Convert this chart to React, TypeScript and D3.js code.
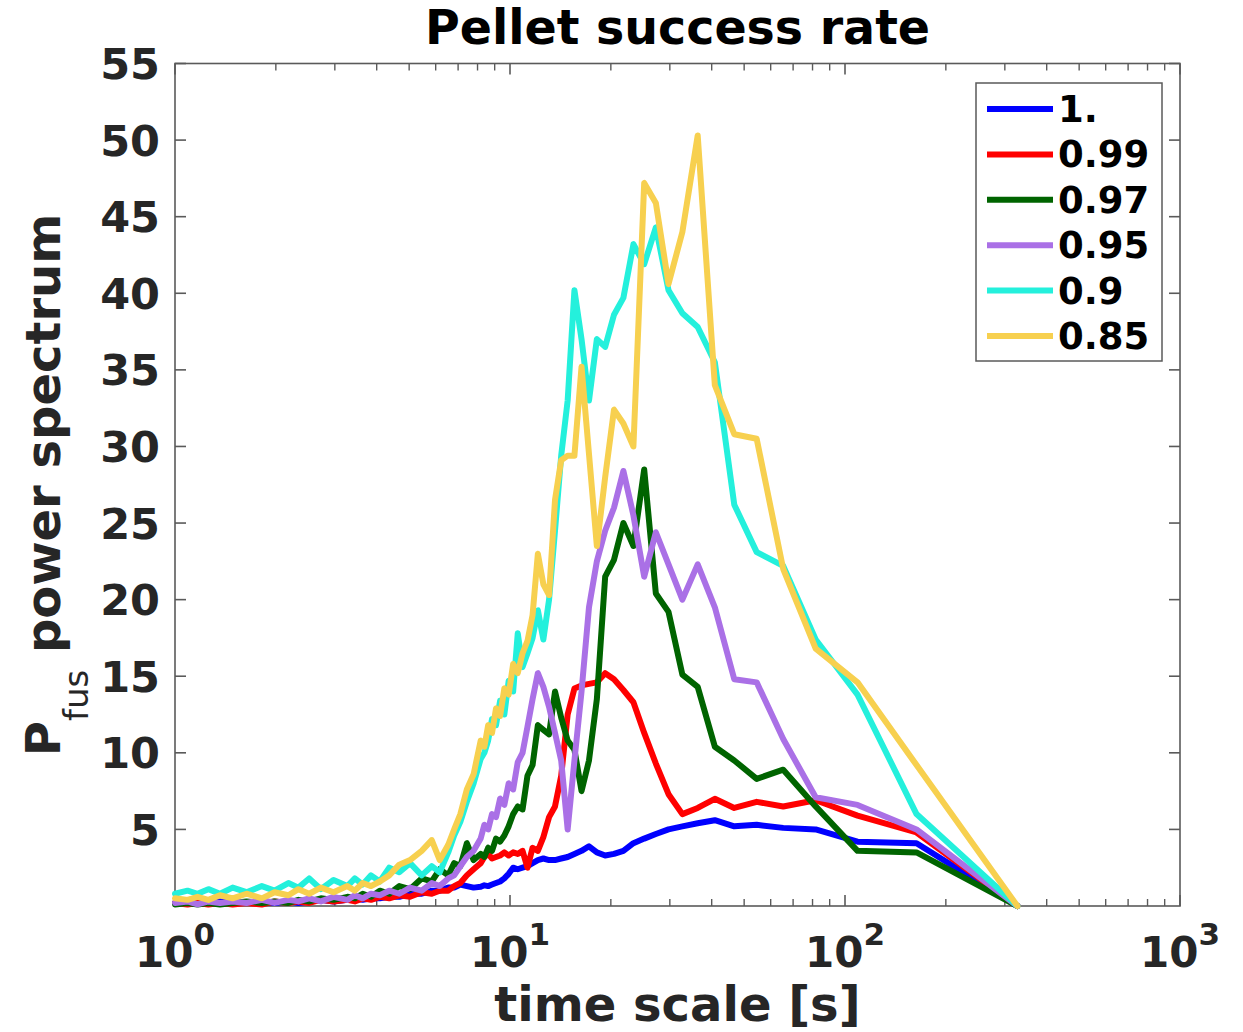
import React from 'react';
import * as d3 from 'd3';

const TITLE = 'Pellet success rate';
const X_LABEL = 'time scale [s]';
const BASE_PERIOD = 327; // seconds; periods are BASE_PERIOD / harmonic

const HARMONICS = [
  1, 2, 3, 4, 5, 6, 7, 8, 9, 10,
  11, 12, 13, 14, 15, 16, 17, 18, 19, 20,
  21, 22, 23, 24, 25, 26, 27, 28, 29, 30,
  31, 32, 33, 34, 35, 36, 37, 38, 39, 40,
  42, 44, 46, 48, 50, 53, 56, 60, 65, 70,
  75, 80, 85, 90, 95, 100, 110, 120, 130, 140,
  150, 165, 180, 200, 220, 240, 260, 280, 300, 327,
];

const SERIES_NAMES = ['1.', '0.99', '0.97', '0.95', '0.9', '0.85'];
const SERIES_COLORS = ['#0000ff', '#ff0000', '#006400', '#aa70e6', '#24f0dc', '#f7d04f'];

const RATE_100 = [
  0, 4.1, 4.2, 5.0, 5.1, 5.3, 5.2, 5.6, 5.4, 5.2,
  5.0, 4.7, 4.4, 4.1, 3.6, 3.4, 3.3, 3.5, 3.9, 3.6,
  3.4, 3.2, 3.1, 3.0, 3.0, 3.1, 3.0, 2.8, 2.6, 2.5,
  2.4, 2.5, 2.1, 1.8, 1.6, 1.5, 1.4, 1.3, 1.35, 1.25,
  1.2, 1.3, 1.4, 1.2, 1.2, 1.0, 1.0, 0.8, 0.8, 0.6,
  0.6, 0.5, 0.5, 0.4, 0.5, 0.4, 0.3, 0.4, 0.3, 0.2,
  0.3, 0.2, 0.3, 0.2, 0.2, 0.3, 0.2, 0.2, 0.3, 0.2,
];

const RATE_099 = [
  0, 4.8, 5.9, 6.9, 6.5, 6.8, 6.4, 7.0, 6.4, 6.0,
  7.3, 9.3, 11.3, 13.3, 14.1, 14.8, 15.2, 14.6, 14.5, 14.4,
  14.2, 12.5, 8.5, 6.5, 5.8, 4.5, 3.6, 3.8, 2.5, 3.6,
  3.4, 3.5, 3.3, 3.5, 3.3, 3.2, 3.1, 3.4, 3.2, 2.8,
  2.4, 2.0, 1.5, 1.3, 1.0, 1.0, 0.8, 0.9, 0.6, 0.7,
  0.5, 0.6, 0.4, 0.5, 0.3, 0.4, 0.3, 0.4, 0.2, 0.3,
  0.2, 0.3, 0.1, 0.2, 0.1, 0.2, 0.1, 0.2, 0.1, 0.2,
];

const RATE_097 = [
  0, 3.5, 3.6, 6.5, 8.9, 8.3, 9.5, 10.4, 14.3, 15.1,
  19.2, 20.4, 28.5, 23.5, 25.0, 22.6, 21.5, 13.5, 9.5, 7.5,
  10.2, 10.8, 12.3, 14.0, 11.2, 11.5, 11.8, 9.2, 8.5, 6.3,
  6.5, 6.0, 5.2, 4.6, 4.2, 4.4, 3.6, 3.8, 3.2, 3.4,
  3.0, 4.1, 2.6, 2.8, 2.0, 2.4, 1.6, 1.8, 1.1, 1.3,
  0.8, 1.0, 0.6, 0.8, 0.5, 0.6, 0.4, 0.5, 0.3, 0.4,
  0.2, 0.3, 0.2, 0.3, 0.2, 0.1, 0.2, 0.1, 0.2, 0.1,
];

const RATE_095 = [
  0, 5.0, 6.6, 7.1, 10.9, 14.6, 14.8, 19.5, 22.3, 20.0,
  22.3, 24.4, 21.5, 25.5, 28.4, 26.0, 24.5, 22.5, 19.5, 14.0,
  9.5, 5.0, 9.5, 11.3, 13.0, 14.3, 15.2, 13.5, 11.7, 10.0,
  9.4, 7.6, 8.0, 6.6, 7.0, 5.8, 6.0, 5.0, 5.3, 4.4,
  3.6, 3.2, 2.6, 2.0, 1.8, 1.3, 1.5, 1.0, 1.2, 0.8,
  1.0, 0.7, 0.8, 0.5, 0.7, 0.4, 0.6, 0.3, 0.5, 0.3,
  0.4, 0.2, 0.4, 0.2, 0.3, 0.2, 0.3, 0.1, 0.3, 0.2,
];

const RATE_090 = [
  0, 6.0, 13.8, 17.4, 22.2, 23.1, 26.2, 35.5, 37.8, 38.7,
  40.2, 44.3, 41.9, 43.2, 39.7, 38.6, 36.5, 37.0, 33.0, 37.0,
  40.2, 33.0, 29.4, 24.5, 20.0, 17.4, 19.3, 17.5, 16.5, 15.6,
  17.8, 14.0, 14.7, 12.5, 13.4, 11.8, 12.2, 10.8, 10.0, 9.6,
  8.0, 6.8, 5.5, 4.6, 3.5, 2.2, 2.6, 2.0, 2.8, 2.2,
  2.5, 1.6, 2.0, 1.4, 1.8, 1.3, 1.7, 1.1, 1.8, 1.2,
  1.5, 1.0, 1.3, 0.9, 1.2, 0.8, 1.1, 0.8, 1.0, 0.8,
];

const RATE_085 = [
  0, 9.2, 14.6, 16.8, 22.0, 30.5, 30.8, 34.0, 50.3, 44.0,
  40.6, 45.9, 47.2, 30.0, 31.5, 32.4, 28.0, 23.5, 29.5, 35.2,
  29.4, 29.4, 29.1, 26.5, 20.3, 21.0, 23.0, 19.0, 17.3, 16.5,
  15.2, 15.8, 13.8, 14.2, 12.4, 12.9, 11.3, 11.8, 10.4, 10.8,
  8.6, 7.6, 6.0, 5.0, 4.0, 3.0, 4.3, 3.6, 3.0, 2.7,
  2.0, 1.6, 1.3, 1.5, 1.0, 1.3, 0.9, 1.2, 0.8, 1.1,
  0.7, 0.9, 0.5, 0.8, 0.5, 0.7, 0.4, 0.6, 0.4, 0.5,
];

const SERIES_VALUES = [RATE_100, RATE_099, RATE_097, RATE_095, RATE_090, RATE_085];

const Y_TICKS = [5, 10, 15, 20, 25, 30, 35, 40, 45, 50, 55];
const X_MAJOR_TICKS = [1, 10, 100, 1000];
const X_EXPONENTS = ['0', '1', '2', '3'];

const W = 1243;
const H = 1032;
const LEFT = 175;
const RIGHT = 1180;
const TOP = 63.5;
const BOTTOM = 906;
const FONT = '"DejaVu Sans", sans-serif';
const AXIS_COLOR = '#5a5a5a';

export default function App() {
  const x = d3.scaleLog().domain([1, 1000]).range([LEFT, RIGHT]);
  const y = d3.scaleLinear().domain([0, 55]).range([BOTTOM, TOP]);

  const minorTicks: number[] = [];
  [1, 10, 100].forEach((d) => {
    for (let m = 2; m <= 9; m++) minorTicks.push(d * m);
  });

  const line = d3
    .line<[number, number]>()
    .x((d) => x(d[0]))
    .y((d) => y(d[1]));

  const series = SERIES_VALUES.map((vals) =>
    HARMONICS.map((k, i) => [BASE_PERIOD / k, vals[i]] as [number, number])
  );

  const legendX = 976;
  const legendY = 83;
  const legendW = 186;
  const legendH = 278;
  const rowStep = 45.4;
  const firstRow = 109;

  return (
    <div style={{ position: 'absolute', left: 0, top: 0 }}>
      <svg width={W} height={H} style={{ display: 'block', background: '#fff' }} fontFamily={FONT}>
        <rect x={0} y={0} width={W} height={H} fill="#fff" />
        {/* axes box */}
        <rect x={LEFT} y={TOP} width={RIGHT - LEFT} height={BOTTOM - TOP} fill="none" stroke={AXIS_COLOR} strokeWidth={1.6} />
        {/* y ticks */}
        {Y_TICKS.map((t) => (
          <g key={'y' + t}>
            <line x1={LEFT} x2={LEFT + 11} y1={y(t)} y2={y(t)} stroke={AXIS_COLOR} strokeWidth={1.6} />
            <line x1={RIGHT} x2={RIGHT - 11} y1={y(t)} y2={y(t)} stroke={AXIS_COLOR} strokeWidth={1.6} />
            <text x={160} y={y(t)} dy="0.36em" textAnchor="end" fontSize={43} fontWeight="bold" fill="#262626">
              {t}
            </text>
          </g>
        ))}
        {/* x ticks */}
        {X_MAJOR_TICKS.map((t, i) => (
          <g key={'xm' + t}>
            <line x1={x(t)} x2={x(t)} y1={BOTTOM} y2={BOTTOM - 11} stroke={AXIS_COLOR} strokeWidth={1.6} />
            <line x1={x(t)} x2={x(t)} y1={TOP} y2={TOP + 11} stroke={AXIS_COLOR} strokeWidth={1.6} />
            <text x={x(t)} y={967} textAnchor="middle" fontWeight="bold" fill="#262626">
              <tspan fontSize={42}>10</tspan>
              <tspan fontSize={31} dy={-22}>{X_EXPONENTS[i]}</tspan>
            </text>
          </g>
        ))}
        {minorTicks.map((t) => (
          <g key={'xn' + t}>
            <line x1={x(t)} x2={x(t)} y1={BOTTOM} y2={BOTTOM - 7} stroke={AXIS_COLOR} strokeWidth={1.4} />
            <line x1={x(t)} x2={x(t)} y1={TOP} y2={TOP + 7} stroke={AXIS_COLOR} strokeWidth={1.4} />
          </g>
        ))}
        {/* data */}
        {series.map((pts, i) => (
          <path
            key={'s' + i}
            d={line(pts) || ''}
            fill="none"
            stroke={SERIES_COLORS[i]}
            strokeWidth={6}
            strokeLinejoin="round"
            strokeLinecap="round"
          />
        ))}
        {/* title & labels */}
        <text x={(LEFT + RIGHT) / 2} y={44} textAnchor="middle" fontSize={47.5} fontWeight="bold" fill="#000">
          {TITLE}
        </text>
        <text x={(LEFT + RIGHT) / 2} y={1021} textAnchor="middle" fontSize={48} fontWeight="bold" fill="#262626">
          {X_LABEL}
        </text>
        <text transform="translate(60,485) rotate(-90)" textAnchor="middle" fontSize={48} fill="#262626">
          <tspan fontWeight="bold">P</tspan>
          <tspan fontSize={34} fontWeight="normal" dy={28}>fus</tspan>
          <tspan fontWeight="bold" dy={-28}> power spectrum</tspan>
        </text>
        {/* legend */}
        <rect x={legendX} y={legendY} width={legendW} height={legendH} fill="#fff" stroke={AXIS_COLOR} strokeWidth={1.5} />
        {SERIES_NAMES.map((name, i) => {
          const ry = firstRow + i * rowStep;
          return (
            <g key={'l' + i}>
              <line x1={987} x2={1053} y1={ry} y2={ry} stroke={SERIES_COLORS[i]} strokeWidth={6} />
              <text x={1058} y={ry + 13} fontSize={37} fontWeight="bold" fill="#000">
                {name}
              </text>
            </g>
          );
        })}
      </svg>
    </div>
  );
}
